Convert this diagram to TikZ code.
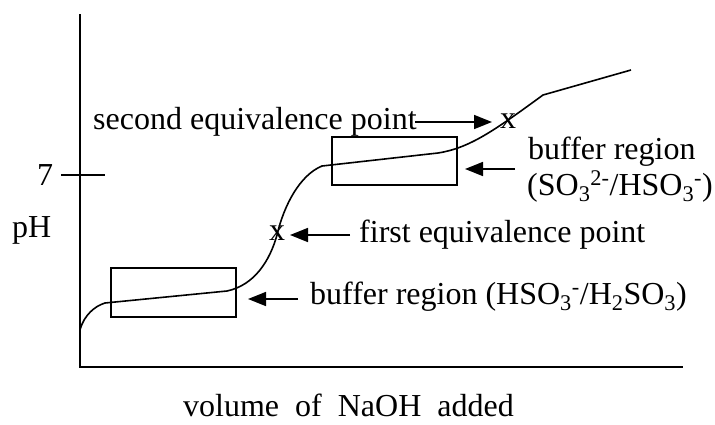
\documentclass[tikz,border=0pt]{standalone}
\usepackage{fontspec}
\setmainfont{Liberation Serif}
\usetikzlibrary{arrows.meta}
\begin{document}
\begin{tikzpicture}[x=1pt,y=-1pt,
  lbl/.style={font=\fontsize{32}{38}\selectfont, inner sep=0pt, anchor=base west},
  xmark/.style={font=\fontsize{32}{38}\selectfont, inner sep=0pt},
  axis/.style={line width=2pt},
  curve/.style={line width=1.6pt},
  box/.style={draw, line width=2pt, inner sep=0pt},
  ptr/.style={line width=1.6pt, -{Triangle[length=18pt,width=14pt]}}]
\useasboundingbox (0,0) rectangle (715,424);
% axes
\coordinate (ytop) at (80,14);
\coordinate (origin) at (80,367);
\coordinate (xend) at (683,367);
\draw[axis] (ytop) -- (origin) -- (xend);
\coordinate (tickL) at (61,175);
\coordinate (tickR) at (105,175);
\draw[curve] (tickL) -- (tickR);
\node[lbl] (seven) at (37,185) {7};
\node[lbl] (ph) at (12,237) {pH};
\node[lbl] (xlab) at (183,416) {volume\ \ of\ \ NaOH\ \ added};
% boxes
\node[box, minimum width=125pt, minimum height=49pt] (box1) at (173.5,292.5) {};
\node[box, minimum width=125pt, minimum height=48pt] (box2) at (394.5,161) {};
% curve
\draw[curve] (80,330) .. controls (84,315) and (95,306) .. (105,303)
  -- (227,291) .. controls (255,285) and (270,260) .. (277,235)
  .. controls (284,205) and (300,175) .. (322,166)
  -- (438,153) .. controls (470,148) and (495,130) .. (543,95)
  -- (631,70);
% markers
\node[xmark] (x1) at (277,233) {x};
\node[xmark] (x2) at (508,121) {x};
% labels
\node[lbl] (second) at (93,129) {second equivalence point};
\node[lbl] (first) at (359,242) {first equivalence point};
\node[lbl] (buf1) at (310,304) {buffer region (HSO\textsubscript{3}\textsuperscript{-}/H\textsubscript{2}SO\textsubscript{3})};
\node[lbl] (buf2a) at (528,159) {buffer region};
\node[lbl] (buf2b) at (527,195) {(SO\textsubscript{3}\textsuperscript{2-}/HSO\textsubscript{3}\textsuperscript{-})};
% arrows
\coordinate (a1s) at (415,122); \coordinate (a1e) at (492,122);
\coordinate (a2s) at (515,169); \coordinate (a2e) at (465,169);
\coordinate (a3s) at (350,235); \coordinate (a3e) at (290,235);
\coordinate (a4s) at (298,299); \coordinate (a4e) at (248,299);
\draw[ptr] (a1s) -- (a1e);
\draw[ptr] (a2s) -- (a2e);
\draw[ptr] (a3s) -- (a3e);
\draw[ptr] (a4s) -- (a4e);
\end{tikzpicture}
\end{document}
